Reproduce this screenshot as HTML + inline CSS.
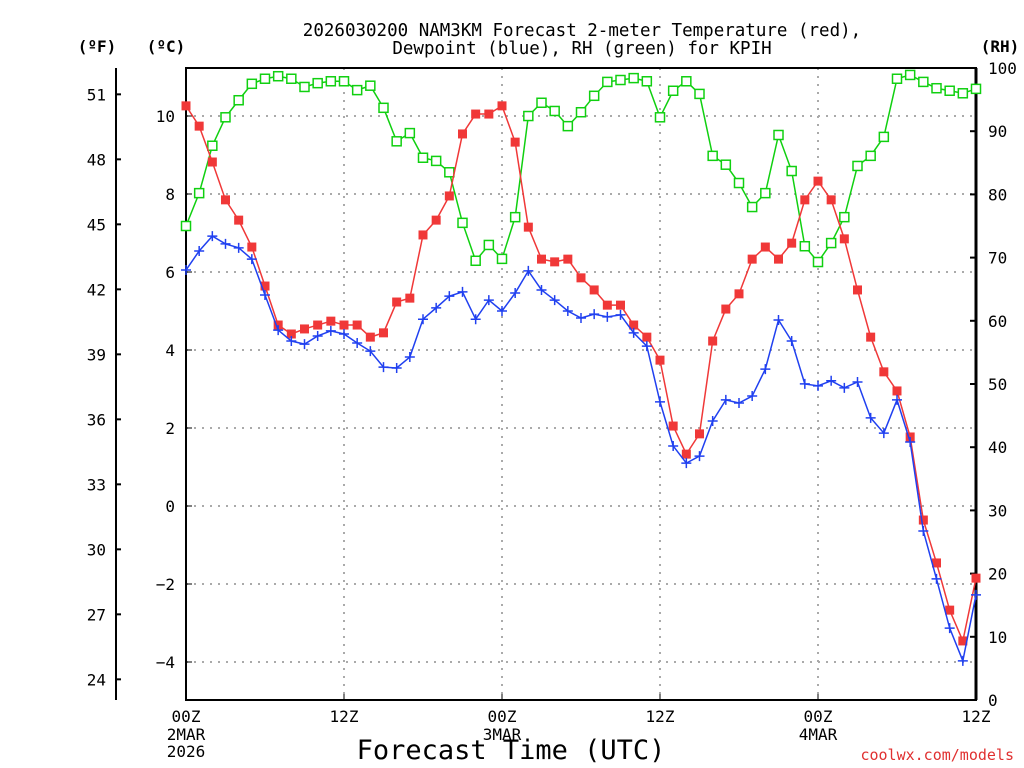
<!DOCTYPE html>
<html><head><meta charset="utf-8"><style>
html,body{margin:0;padding:0;background:#fff;}
svg{display:block;font-family:"DejaVu Sans Mono","Liberation Mono",monospace;}
</style></head><body>
<svg id="c" width="1024" height="768" viewBox="0 0 1024 768"></svg>
<script>
const hours = [];
for (let i = 0; i <= 60; i++) hours.push(i);
const tempC = [10.26,9.74,8.82,7.85,7.33,6.64,5.64,4.64,4.41,4.54,4.64,4.74,4.64,4.64,4.33,4.44,5.23,5.33,6.95,7.33,7.95,9.54,10.05,10.05,10.26,9.33,7.15,6.33,6.26,6.33,5.85,5.54,5.15,5.15,4.64,4.33,3.74,2.05,1.33,1.85,4.23,5.05,5.44,6.33,6.64,6.33,6.74,7.85,8.33,7.85,6.85,5.54,4.33,3.44,2.95,1.77,-0.36,-1.46,-2.67,-3.46,-1.85];
const dewC = [6.05,6.54,6.92,6.72,6.62,6.33,5.41,4.51,4.23,4.15,4.36,4.49,4.41,4.18,3.97,3.56,3.54,3.82,4.79,5.08,5.38,5.49,4.79,5.28,5.0,5.46,6.03,5.54,5.28,5.0,4.82,4.92,4.85,4.90,4.44,4.10,2.67,1.54,1.10,1.28,2.18,2.72,2.64,2.82,3.51,4.77,4.23,3.13,3.08,3.21,3.03,3.18,2.26,1.87,2.72,1.64,-0.64,-1.87,-3.13,-3.97,-2.28];
const rh = [75.0,80.2,87.7,92.2,94.9,97.5,98.3,98.7,98.3,97.0,97.6,97.9,97.9,96.5,97.2,93.7,88.4,89.7,85.8,85.3,83.5,75.5,69.5,72.0,69.8,76.4,92.4,94.5,93.2,90.8,93.0,95.6,97.8,98.1,98.4,97.9,92.2,96.4,97.9,95.9,86.1,84.7,81.8,78.0,80.2,89.4,83.7,71.8,69.3,72.3,76.4,84.5,86.1,89.1,98.3,98.9,97.8,96.8,96.4,96.0,96.7];
const cTicks = [-4,-2,0,2,4,6,8,10];
const fTicks = [24,27,30,33,36,39,42,45,48,51];
const rhTicks = [0,10,20,30,40,50,60,70,80,90,100];
const xTicks = [0,12,24,36,48,60];
const xTickLabels = ["00Z","12Z","00Z","12Z","00Z","12Z"];
const dateLabels = [[0,"2MAR"],[0,"2026"],[24,"3MAR"],[48,"4MAR"]];

const L=186,R=976,T=68,B=700;
const xs = h => L + (R-L)*h/60;
const yc = c => 506 - c*39;
const yr = r => B - (B-T)*r/100;
const yf = f => yc((f-32)*5/9);
const svg = document.getElementById('c');
const NS='http://www.w3.org/2000/svg';
function mk(tag, attrs, parent){const e=document.createElementNS(NS,tag);for(const k in attrs)e.setAttribute(k,attrs[k]);(parent||svg).appendChild(e);return e;}
function txt(x,y,s,attrs){const e=mk('text',Object.assign({x:x,y:y,'font-size':16,fill:'#000'},attrs||{}));e.textContent=s;return e;}

let t1=txt(582,36,"2026030200 NAM3KM Forecast 2-meter Temperature (red),",{'text-anchor':'middle','font-size':17.5});


let t2=txt(582,54,"Dewpoint (blue), RH (green) for KPIH",{'text-anchor':'middle','font-size':17.5});


let a1=txt(97,52,"(ºF)",{'text-anchor':'middle','font-weight':'bold'});


let a2=txt(166,52,"(ºC)",{'text-anchor':'middle','font-weight':'bold'});


let a3=txt(1000,52,"(RH)",{'text-anchor':'middle','font-weight':'bold'});



const grid=mk('g',{stroke:'#aaa','stroke-width':2,'stroke-dasharray':'2,6'});


cTicks.forEach(c=>mk('line',{x1:L,x2:R,y1:yc(c),y2:yc(c)},grid));
xTicks.slice(1,-1).forEach(h=>mk('line',{x1:xs(h),x2:xs(h),y1:T,y2:B},grid));

const fr=mk('rect',{x:L,y:T,width:R-L,height:B-T,fill:'none',stroke:'#000','stroke-width':2});


mk('line',{x1:R,x2:R,y1:T,y2:B,stroke:'#000','stroke-width':3});

const fax=mk('g',{});


mk('line',{x1:116,x2:116,y1:T,y2:B,stroke:'#000','stroke-width':2},fax);
fTicks.forEach(f=>{mk('line',{x1:116,x2:121,y1:yf(f),y2:yf(f),stroke:'#000','stroke-width':2},fax);
 const e=txt(106,yf(f)+6,String(f),{'text-anchor':'end'});fax.appendChild(e);});
const cax=mk('g',{});


cTicks.forEach(c=>{mk('line',{x1:L,x2:L+6,y1:yc(c),y2:yc(c),stroke:'#000','stroke-width':1},cax);
 const e=txt(175,yc(c)+6,(c<0?'\u2212':'')+Math.abs(c),{'text-anchor':'end'});cax.appendChild(e);});
const rax=mk('g',{});


rhTicks.forEach(r=>{mk('line',{x1:R-6,x2:R,y1:yr(r),y2:yr(r),stroke:'#000','stroke-width':2},rax);
 const e=txt(988,yr(r)+6,String(r),{'text-anchor':'start'});rax.appendChild(e);});
const xax=mk('g',{});


xTicks.forEach((h,i)=>{mk('line',{x1:xs(h),x2:xs(h),y1:B,y2:B-6,stroke:'#000'},xax);
 const e=txt(xs(h),722,xTickLabels[i],{'text-anchor':'middle'});xax.appendChild(e);});
dateLabels.forEach((d,i)=>{const e=txt(xs(d[0]),(d[1]==="2026")?757:740,d[1],{'text-anchor':'middle'});xax.appendChild(e);});
let xt=txt(511,759,"Forecast Time (UTC)",{'text-anchor':'middle','font-size':27});


let cr=txt(1014,760,"coolwx.com/models",{'text-anchor':'end',fill:'#e03030','font-size':15});



function line(vals, yfn, color, name){
  const g=mk('g',{});
  
  
  mk('polyline',{points:vals.map((v,i)=>xs(hours[i])+','+yfn(v)).join(' '),fill:'none',stroke:color,'stroke-width':1.5},g);
  return g;
}
const rg=line(rh,yr,'#10d010','rh-series');
rh.forEach((v,i)=>{const m=mk('rect',{x:xs(hours[i])-4.5,y:yr(v)-4.5,width:9,height:9,fill:'#fff',stroke:'#10d010','stroke-width':1.5},rg);
 
 });
const tg=line(tempC,yc,'#f03838','temperature-series');
tempC.forEach((v,i)=>{const m=mk('rect',{x:xs(hours[i])-4.5,y:yc(v)-4.5,width:9,height:9,fill:'#f03838'},tg);
 
 });
const dg=line(dewC,yc,'#2040f0','dewpoint-series');
dewC.forEach((v,i)=>{const x=xs(hours[i]),y=yc(v);const m=mk('path',{d:`M${x-5},${y}H${x+5}M${x},${y-5}V${y+5}`,stroke:'#2040f0','stroke-width':1.5},dg);
 
 });
</script>
</body></html>
